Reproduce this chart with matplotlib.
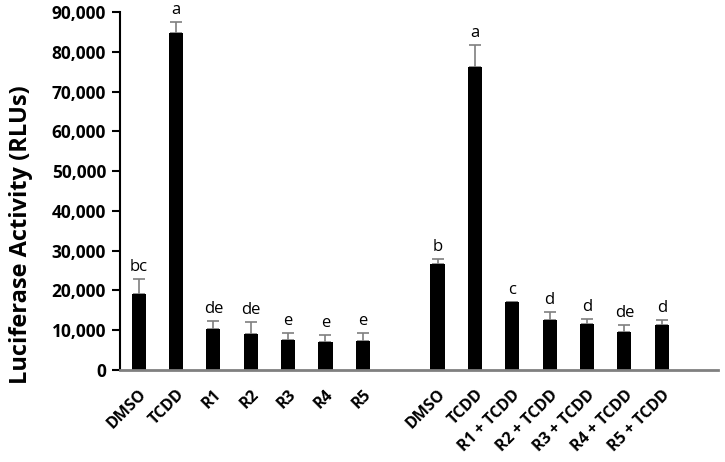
import numpy as np
import matplotlib
matplotlib.use("Agg")
import matplotlib.pyplot as plt

# two groups of treatments, separated by one empty slot
labels_a = ["DMSO", "TCDD", "R1", "R2", "R3", "R4", "R5"]
means_a = [19100, 84700, 10400, 9100, 7500, 7000, 7200]
err_a = [3700, 2700, 2000, 2900, 1800, 1800, 2000]
letters_a = ["bc", "a", "de", "de", "e", "e", "e"]

labels_b = ["DMSO", "TCDD", "R1 + TCDD", "R2 + TCDD", "R3 + TCDD",
            "R4 + TCDD", "R5 + TCDD"]
means_b = [26700, 76300, 17000, 12700, 11700, 9500, 11400]
err_b = [1100, 5300, 150, 1900, 1200, 1900, 1300]
letters_b = ["b", "a", "c", "d", "d", "de", "d"]

plt.rcParams["font.family"] = ["Open Sans", "DejaVu Sans"]

x_a = np.arange(len(labels_a))
x_b = np.arange(len(labels_b)) + len(labels_a) + 1
xs = np.concatenate([x_a, x_b])
means = means_a + means_b
errs = err_a + err_b
letters = letters_a + letters_b
labels = labels_a + labels_b

fig = plt.figure(figsize=(7.25, 4.62), dpi=100)
ax = fig.add_axes([0.1655, 0.199, 0.8245, 0.775])

ax.bar(xs, means, width=0.38, color="black", zorder=2)
ax.errorbar(xs, means, yerr=[np.zeros(len(errs)), errs], fmt="none",
            ecolor="#7f7f7f", elinewidth=1.2, capsize=4, capthick=1.2, zorder=1)

for x, m, e, t in zip(xs, means, errs, letters):
    ax.text(x, m + e + 1000, t, ha="center", va="bottom", fontsize=12)

ax.set_xlim(-0.5, 15.5)
ax.set_ylim(0, 90000)
ax.set_yticks(np.arange(0, 90001, 10000))
ax.set_yticklabels([f"{v:,}" for v in range(0, 90001, 10000)],
                   fontsize=12.5, fontweight="bold")
ax.set_xticks(xs)
ax.set_xticklabels(labels, rotation=45, ha="right", rotation_mode="anchor",
                   fontsize=11.5, fontweight="bold")
ax.tick_params(axis="x", length=0, pad=12)
ax.tick_params(axis="y", length=6, width=1.5, direction="out", pad=4)

ax.set_ylabel("Luciferase Activity (RLUs)", fontsize=17, fontweight="bold")
ax.yaxis.set_label_coords(-0.145, 0.377)

ax.spines["top"].set_visible(False)
ax.spines["right"].set_visible(False)
ax.spines["left"].set_linewidth(1.5)
ax.spines["bottom"].set_color("#808080")
ax.spines["bottom"].set_linewidth(2)

fig.savefig("out.png", dpi=100)
